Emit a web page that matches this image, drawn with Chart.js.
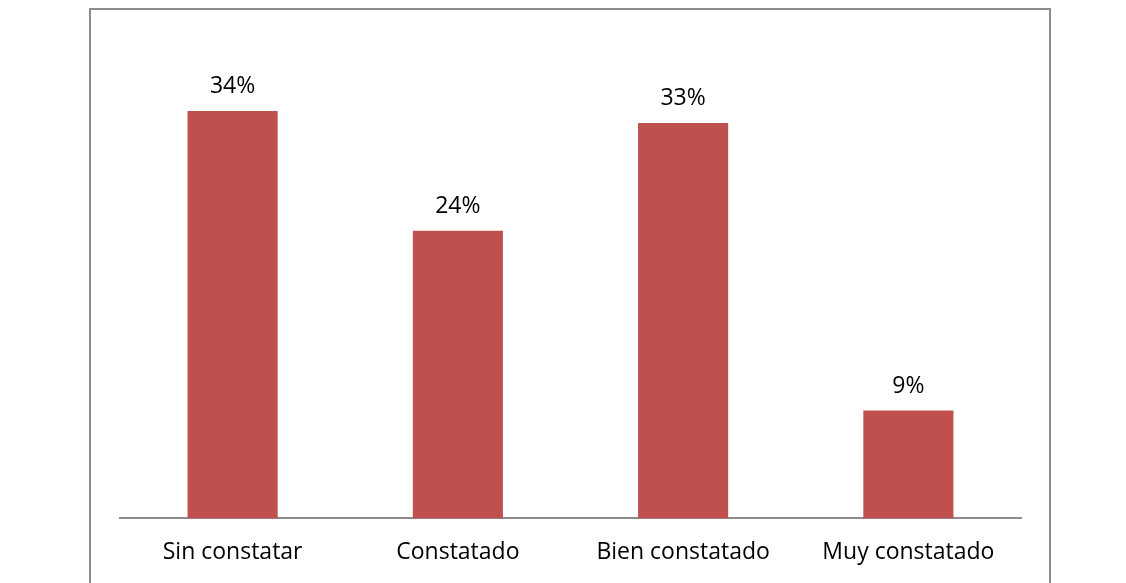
<!DOCTYPE html>
<html>
<head>
<meta charset="utf-8">
<script src="https://cdn.jsdelivr.net/npm/chart.js@4"></script>
<style>
    html, body { margin: 0; padding: 0; background: #fff; overflow: hidden; }
    #wrap { width: 1126px; height: 583px; overflow: hidden; }
</style>
</head>
<body>
<div id="wrap"><canvas id="chart" width="1126" height="586"></canvas></div>
<script>
const categories = ['Sin constatar', 'Constatado', 'Bien constatado', 'Muy constatado'];
const values = [34, 24, 33, 9];
const valueLabels = ['34%', '24%', '33%', '9%'];

const fontFamily = "'Open Sans', Lato, sans-serif";

// outer frame around the chart, like the office chart area border
const framePlugin = {
    id: 'frame',
    beforeDraw(chart) {
        const ctx = chart.ctx;
        ctx.save();
        ctx.strokeStyle = '#8c8c8c';
        ctx.lineWidth = 2;
        ctx.strokeRect(90, 9, 960, 620);
        ctx.restore();
    }
};

// value labels above each bar
const valueLabelPlugin = {
    id: 'valueLabels',
    afterDatasetsDraw(chart) {
        const ctx = chart.ctx;
        const meta = chart.getDatasetMeta(0);
        ctx.save();
        ctx.font = '23px ' + fontFamily;
        ctx.fillStyle = '#000';
        ctx.textAlign = 'center';
        ctx.textBaseline = 'alphabetic';
        meta.data.forEach((bar, i) => {
            ctx.fillText(valueLabels[i], bar.x, bar.y - 18);
        });
        ctx.restore();
    }
};

new Chart(document.getElementById('chart'), {
    type: 'bar',
    data: {
        labels: categories,
        datasets: [{
            data: values,
            backgroundColor: '#C0504D',
            barPercentage: 0.4,
            categoryPercentage: 1
        }]
    },
    options: {
        responsive: false,
        animation: false,
        layout: { padding: { left: 120, right: 105, top: 39, bottom: 0 } },
        plugins: {
            legend: { display: false },
            tooltip: { enabled: false }
        },
        scales: {
            x: {
                grid: { display: false, drawTicks: false },
                border: { color: '#8c8c8c', width: 2 },
                ticks: {
                    color: '#000',
                    padding: 20,
                    font: { family: fontFamily, size: 23 }
                }
            },
            y: {
                display: false,
                min: 0,
                max: 40
            }
        }
    },
    plugins: [framePlugin, valueLabelPlugin]
});
</script>
</body>
</html>
